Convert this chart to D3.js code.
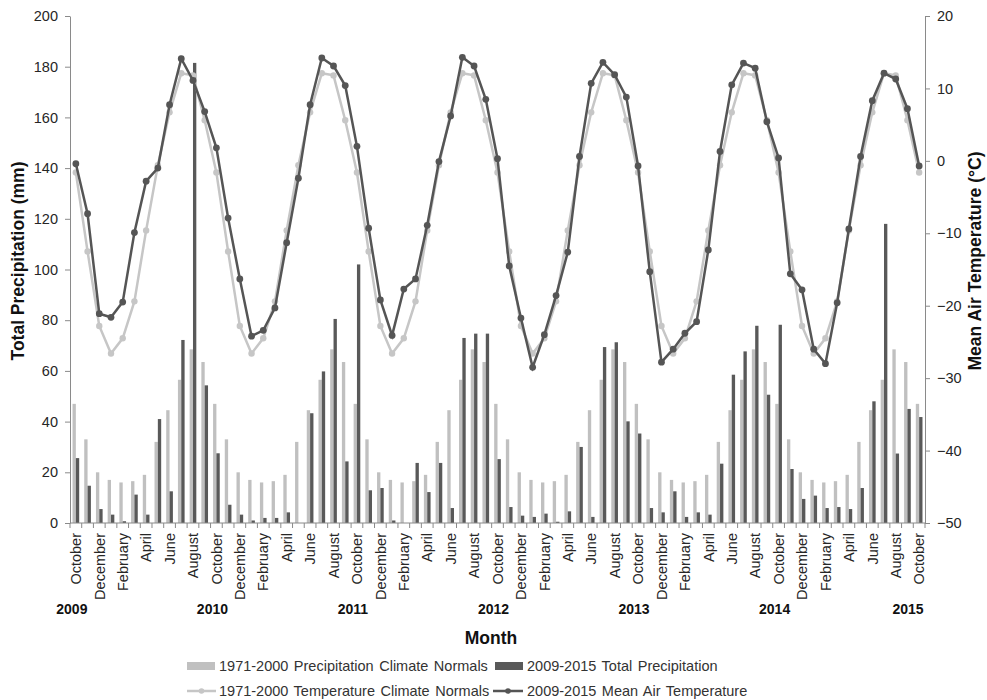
<!DOCTYPE html>
<html>
<head>
<meta charset="utf-8">
<script src="https://cdn.jsdelivr.net/npm/d3@7"></script>
<style>
  html, body { margin: 0; padding: 0; background: #fff; }
  svg { display: block; font-family: "Liberation Sans", Arial, sans-serif; }
</style>
</head>
<body>
<svg id="chart" width="987" height="700"></svg>
<script>
// ---------------- DATA ----------------
const monthCycle = ["October","November","December","January","February","March",
                    "April","May","June","July","August","September"];
const startYear = 2009;          // first category: October 2009
const nMonths = 73;              // October 2009 .. October 2015
const yearLabels = ["2009","2010","2011","2012","2013","2014","2015"];

// 1971-2000 climate normals (Oct..Sep), repeated each year
const precipNormals = [47, 33, 20, 17, 16, 16.5, 19, 32, 44.5, 56.5, 68.5, 63.5];
const tempNormals   = [-1.6, -12.5, -22.8, -26.6, -24.5, -19.4, -9.6, -0.6, 6.7, 12.1, 11.8, 5.6];

// 2009-2015 monthly total precipitation (mm), Oct 2009 .. Oct 2015
const precipActual = [
  25.6, 14.7, 5.5, 3.3, 0.7, 11.2, 3.3, 41, 12.5, 72.2, 181.5, 54.3,
  27.5, 7.2, 3.3, 1, 2, 2, 4.2, 0, 43.3, 59.8, 80.5, 24.3,
  102, 12.9, 13.8, 1, 0, 23.7, 12.2, 23.7, 5.9, 73, 74.7, 74.7,
  25.2, 6.3, 2.9, 2.4, 3.7, 0.5, 4.6, 30, 2.4, 69.4, 71.3, 40.1,
  35.3, 5.9, 4.2, 12.5, 2.4, 4.2, 3.3, 23.4, 58.5, 67.7, 77.8, 50.6,
  78.2, 21.3, 9.5, 10.8, 5.9, 6.3, 5.5, 13.8, 48, 118, 27.4, 45,
  41.8
];

// 2009-2015 monthly mean air temperature (°C), Oct 2009 .. Oct 2015
const tempActual = [
  -0.4, -7.3, -21.1, -21.6, -19.5, -9.9, -2.8, -1.0, 7.75, 14.1, 11.1, 6.8,
  1.8, -7.9, -16.3, -24.2, -23.4, -20.3, -11.3, -2.4, 7.75, 14.2, 13.1, 10.4,
  2.0, -9.3, -19.2, -24.1, -17.7, -16.3, -8.9, -0.1, 6.2, 14.3, 13.1, 8.5,
  0.3, -14.5, -21.7, -28.5, -24.0, -18.6, -12.6, 0.6, 10.7, 13.6, 11.9, 8.8,
  -0.7, -15.3, -27.8, -26.0, -23.8, -22.2, -12.3, 1.3, 10.5, 13.5, 12.8, 5.4,
  0.4, -15.6, -17.8, -26.0, -28.0, -19.6, -9.4, 0.6, 8.3, 12.1, 11.3, 7.2,
  -0.7
];

const precipTicks = [0, 20, 40, 60, 80, 100, 120, 140, 160, 180, 200];
const tempTicks = [-50, -40, -30, -20, -10, 0, 10, 20];

const legendItems = [
  "1971-2000 Precipitation Climate Normals",
  "2009-2015 Total Precipitation",
  "1971-2000 Temperature Climate Normals",
  "2009-2015 Mean Air Temperature"
];

// ---------------- BUILD ----------------
const categories = d3.range(nMonths).map(i => ({
  i,
  month: monthCycle[i % 12],
  pNorm: precipNormals[i % 12],
  tNorm: tempNormals[i % 12],
  pAct: precipActual[i],
  tAct: tempActual[i]
}));

const L = 70, R = 925, T = 16, B = 523;
const lightBar = "#c0c0c0", darkBar = "#595959";
const lightLine = "#c6c6c6", darkLine = "#555555";
const axisCol = "#8a8a8a", textCol = "#262626";

const svg = d3.select("#chart");

const x = d3.scaleBand().domain(d3.range(nMonths)).range([L, R]).padding(0);
const yP = d3.scaleLinear().domain([0, 200]).range([B, T]);
const yT = d3.scaleLinear().domain([-50, 20]).range([B, T]);
const bw = x.bandwidth() * 0.285;
const cx = i => x(i) + x.bandwidth() / 2;

// Bars
svg.append("g").selectAll("rect.norm").data(categories).join("rect")
  .attr("x", d => cx(d.i) - bw).attr("width", bw)
  .attr("y", d => yP(d.pNorm)).attr("height", d => yP(0) - yP(d.pNorm))
  .attr("fill", lightBar);
svg.append("g").selectAll("rect.act").data(categories).join("rect")
  .attr("x", d => cx(d.i)).attr("width", bw)
  .attr("y", d => yP(d.pAct)).attr("height", d => yP(0) - yP(d.pAct))
  .attr("fill", darkBar);

// Axes
const gL = svg.append("g").attr("transform", `translate(${L},0)`)
  .call(d3.axisLeft(yP).tickValues(precipTicks).tickSize(5).tickSizeOuter(0).tickPadding(7));
const gR = svg.append("g").attr("transform", `translate(${R},0)`)
  .call(d3.axisRight(yT).tickValues(tempTicks).tickSize(5).tickSizeOuter(0).tickPadding(7));
[gL, gR].forEach(g => {
  g.select(".domain").attr("stroke", axisCol);
  g.selectAll(".tick line").attr("stroke", axisCol);
  g.selectAll(".tick text").attr("fill", textCol).style("font-size", "14.5px")
    .style("font-family", '"Liberation Sans", Arial, sans-serif');
});

// X axis (category boundaries)
svg.append("line").attr("x1", L).attr("x2", R).attr("y1", B).attr("y2", B).attr("stroke", axisCol);
svg.append("g").selectAll("line").data(d3.range(nMonths + 1)).join("line")
  .attr("x1", i => i < nMonths ? x(i) : R).attr("x2", i => i < nMonths ? x(i) : R)
  .attr("y1", B).attr("y2", B + 5).attr("stroke", axisCol);
svg.append("g").selectAll("text").data(categories.filter(d => d.i % 2 === 0)).join("text")
  .attr("transform", d => `translate(${cx(d.i)},${B + 10}) rotate(-90)`)
  .attr("text-anchor", "end").attr("dy", "0.36em")
  .style("font-size", "14.5px").attr("fill", textCol)
  .text(d => d.month);

// Year labels
svg.append("g").selectAll("text").data(yearLabels).join("text")
  .attr("x", (d, k) => {
    const idx = k < yearLabels.length - 1 ? 12 * k - 0.34 : 71.05;
    return L + (idx + 0.5) * x.step();
  })
  .attr("y", 614).attr("text-anchor", "middle")
  .style("font-size", "14px").style("font-weight", "bold").attr("fill", "#111")
  .text(d => d);

// Lines
const lineNorm = d3.line().x(d => cx(d.i)).y(d => yT(d.tNorm));
const lineAct = d3.line().x(d => cx(d.i)).y(d => yT(d.tAct));
svg.append("path").datum(categories).attr("d", lineNorm)
  .attr("fill", "none").attr("stroke", lightLine).attr("stroke-width", 2.5);
svg.append("g").selectAll("circle").data(categories).join("circle")
  .attr("cx", d => cx(d.i)).attr("cy", d => yT(d.tNorm)).attr("r", 3.2).attr("fill", lightLine);
svg.append("path").datum(categories).attr("d", lineAct)
  .attr("fill", "none").attr("stroke", darkLine).attr("stroke-width", 2.5);
svg.append("g").selectAll("circle").data(categories).join("circle")
  .attr("cx", d => cx(d.i)).attr("cy", d => yT(d.tAct)).attr("r", 3.4).attr("fill", darkLine);

// Axis titles
svg.append("text").attr("transform", "translate(24,261) rotate(-90)")
  .attr("text-anchor", "middle").style("font-size", "17.5px").style("font-weight", "bold")
  .attr("fill", "#111").text("Total Precipitation (mm)");
svg.append("text").attr("transform", "translate(981,261) rotate(-90)")
  .attr("text-anchor", "middle").style("font-size", "17.5px").style("font-weight", "bold")
  .attr("fill", "#111").text("Mean Air Temperature (°C)");
svg.append("text").attr("x", 491).attr("y", 644)
  .attr("text-anchor", "middle").style("font-size", "17.5px").style("font-weight", "bold")
  .attr("fill", "#111").text("Month");

// Legend
const lg = svg.append("g").style("font-size", "14.5px").style("word-spacing", "1.5px").attr("fill", "#333");
const legendPos = [
  {sx: 187, tx: 219, y: 666},
  {sx: 495, tx: 527, y: 666},
  {sx: 187, tx: 219, y: 691},
  {sx: 493, tx: 527, y: 691}
];
// swatches
lg.append("rect").attr("x", legendPos[0].sx).attr("y", legendPos[0].y - 4).attr("width", 28).attr("height", 8).attr("fill", lightBar);
lg.append("rect").attr("x", legendPos[1].sx).attr("y", legendPos[1].y - 4).attr("width", 28).attr("height", 8).attr("fill", darkBar);
lg.append("line").attr("x1", legendPos[2].sx).attr("x2", legendPos[2].sx + 29).attr("y1", legendPos[2].y).attr("y2", legendPos[2].y)
  .attr("stroke", lightLine).attr("stroke-width", 2.5);
lg.append("circle").attr("cx", legendPos[2].sx + 14.5).attr("cy", legendPos[2].y).attr("r", 2.8).attr("fill", lightLine);
lg.append("line").attr("x1", legendPos[3].sx).attr("x2", legendPos[3].sx + 30).attr("y1", legendPos[3].y).attr("y2", legendPos[3].y)
  .attr("stroke", darkLine).attr("stroke-width", 2.5);
lg.append("circle").attr("cx", legendPos[3].sx + 15).attr("cy", legendPos[3].y).attr("r", 2.8).attr("fill", darkLine);
legendItems.forEach((t, k) => {
  lg.append("text").attr("x", legendPos[k].tx).attr("y", legendPos[k].y).attr("dy", "0.36em").text(t);
});
</script>
</body>
</html>
